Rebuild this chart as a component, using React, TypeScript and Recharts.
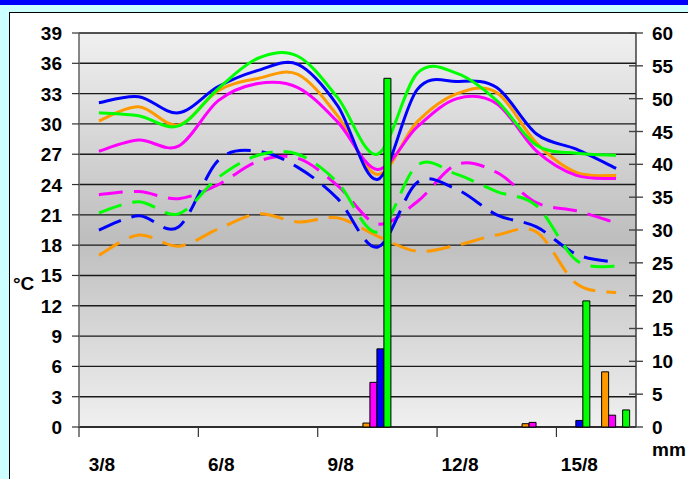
import React from "react";
import { ComposedChart, Line, Bar, XAxis, YAxis, CartesianGrid } from "recharts";

const days = ["3/8", "4/8", "5/8", "6/8", "7/8", "8/8", "9/8", "10/8", "11/8", "12/8", "13/8", "14/8", "15/8", "16/8"];

// Daily maximum temperatures (°C) – solid lines
const maxOrange = [30.3, 31.7, 29.9, 33.3, 34.5, 34.9, 30.8, 25.0, 30.2, 33.0, 33.1, 28.1, 25.2, 24.9];
const maxMagenta = [27.3, 28.4, 27.8, 32.3, 34.0, 33.6, 30.2, 25.5, 29.7, 32.5, 32.0, 27.3, 24.9, 24.6];
const maxBlue = [32.1, 32.7, 31.1, 33.7, 35.3, 35.9, 31.8, 24.5, 33.4, 34.2, 33.6, 29.0, 27.5, 25.6];
const maxGreen = [31.1, 30.8, 29.8, 33.5, 36.5, 36.7, 32.6, 27.0, 35.0, 35.0, 32.3, 27.9, 27.1, 26.9];

// Daily minimum temperatures (°C) – dashed lines
const minOrange = [17.0, 19.0, 17.9, 19.6, 21.1, 20.3, 20.7, 18.9, 17.4, 18.0, 19.0, 19.3, 14.2, 13.3];
const minMagenta = [23.0, 23.3, 22.6, 24.0, 26.3, 26.6, 23.9, 20.1, 22.3, 26.0, 25.2, 22.2, 21.4, 20.2];
const minBlue = [19.5, 20.9, 19.8, 26.4, 27.3, 25.7, 22.6, 17.8, 24.2, 23.5, 21.0, 19.8, 17.1, 16.3];
const minGreen = [21.2, 22.3, 21.1, 24.7, 26.9, 27.0, 24.2, 19.3, 25.9, 25.0, 23.3, 21.9, 16.5, 15.9];

// Daily rainfall (mm) – bars
const rainOrange = [null, null, null, null, null, null, null, 0.6, null, null, null, 0.5, null, 8.4];
const rainMagenta = [null, null, null, null, null, null, null, 6.8, null, null, null, 0.7, null, 1.8];
const rainBlue = [null, null, null, null, null, null, null, 11.9, null, null, null, null, 1.0, null];
const rainGreen = [null, null, null, null, null, null, null, 53.1, null, null, null, null, 19.2, 2.6];

const tempTicks = [0, 3, 6, 9, 12, 15, 18, 21, 24, 27, 30, 33, 36, 39];
const rainTicks = [0, 5, 10, 15, 20, 25, 30, 35, 40, 45, 50, 55, 60];

const data = days.map((day, i) => ({
  day,
  maxO: maxOrange[i],
  maxM: maxMagenta[i],
  maxB: maxBlue[i],
  maxG: maxGreen[i],
  minO: minOrange[i],
  minM: minMagenta[i],
  minB: minBlue[i],
  minG: minGreen[i],
  rO: rainOrange[i],
  rM: rainMagenta[i],
  rB: rainBlue[i],
  rG: rainGreen[i],
}));

const W = 688;
const H = 479;
const PL = 79;
const PR = 636;
const PT = 33;
const PB = 427;
const FONT = "'Liberation Sans', Arial, sans-serif";
const FS = 19;

const ORANGE = "#FF9900";
const MAGENTA = "#FF00FF";
const BLUE = "#0000FF";
const GREEN = "#00FF00";

// Excel-like smoothed curve (Catmull-Rom as cubic Bezier)
function excelCurve(context: any) {
  let pts: number[][] = [];
  return {
    areaStart() {},
    areaEnd() {},
    lineStart() {
      pts = [];
    },
    point(x: number, y: number) {
      pts.push([+x, +y]);
    },
    lineEnd() {
      if (!pts.length) return;
      context.moveTo(pts[0][0], pts[0][1]);
      for (let i = 0; i < pts.length - 1; i++) {
        const p0 = pts[i - 1] || pts[i];
        const p1 = pts[i];
        const p2 = pts[i + 1];
        const p3 = pts[i + 2] || p2;
        context.bezierCurveTo(
          p1[0] + (p2[0] - p0[0]) / 6,
          p1[1] + (p2[1] - p0[1]) / 6,
          p2[0] - (p3[0] - p1[0]) / 6,
          p2[1] - (p3[1] - p1[1]) / 6,
          p2[0],
          p2[1]
        );
      }
    },
  };
}

function XTick(props: any) {
  const { x, payload } = props;
  const band = (PR - PL) / days.length;
  const bx = x - band / 2;
  return (
    <g>
      <line x1={bx} x2={bx} y1={PB} y2={PB + 10} stroke="#333" strokeWidth={1.2} />
      <text x={x + 3} y={PB + 44} textAnchor="middle" fontFamily={FONT} fontWeight="bold" fontSize={FS} fill="#000">
        {payload.value}
      </text>
    </g>
  );
}

function LeftTick(props: any) {
  const { y, payload } = props;
  return (
    <g>
      <line x1={PL - 7} x2={PL} y1={y} y2={y} stroke="#333" strokeWidth={1.2} />
      <text x={62} y={y + 7} textAnchor="end" fontFamily={FONT} fontWeight="bold" fontSize={FS} fill="#000">
        {payload.value}
      </text>
    </g>
  );
}

function RightTick(props: any) {
  const { y, payload } = props;
  return (
    <g>
      <line x1={PR - 7} x2={PR + 7} y1={y} y2={y} stroke="#444" strokeWidth={1.4} />
      <text x={652} y={y + 7} textAnchor="start" fontFamily={FONT} fontWeight="bold" fontSize={FS} fill="#000">
        {payload.value}
      </text>
    </g>
  );
}

export default function App() {
  const solid = { strokeWidth: 3, dot: false, activeDot: false, isAnimationActive: false, yAxisId: "left", type: excelCurve as any };
  const dashed = { ...solid, strokeDasharray: "24 11" };
  const barCommon = { yAxisId: "right", stroke: "#000", strokeWidth: 1, isAnimationActive: false, zIndex: 600 } as any;
  return (
    <div style={{ position: "absolute", left: 0, top: 0, width: W, height: H, background: "#CCFFFF", overflow: "hidden" }}>
      <div style={{ position: "absolute", left: 0, top: 0, width: W, height: 5, background: "#0000FF" }} />
      <div
        style={{
          position: "absolute",
          left: 9,
          top: 12,
          width: 800,
          height: 600,
          background: "#FFFFFF",
          borderLeft: "1px solid #000",
          borderTop: "1px solid #000",
        }}
      />
      <div style={{ position: "absolute", left: 0, top: 0 }}>
        <ComposedChart
          width={W}
          height={H}
          data={data}
          margin={{ top: PT, right: 0, bottom: 0, left: 0 }}
          barCategoryGap="13.6%"
          barGap={0}
        >
          <defs>
            <linearGradient id="plotBg" x1="0" y1="0" x2="0" y2="1">
              <stop offset="0%" stopColor="#F0F0F0" />
              <stop offset="52%" stopColor="#BEBEBE" />
              <stop offset="100%" stopColor="#F0F0F0" />
            </linearGradient>
          </defs>
          <CartesianGrid
            yAxisId="left"
            vertical={false}
            stroke="#1a1a1a"
            strokeWidth={1.4}
            fill="url(#plotBg)"
            fillOpacity={1}
          />
          <XAxis
            dataKey="day"
            height={H - PB}
            interval={2}
            tickLine={false}
            axisLine={{ stroke: "#222", strokeWidth: 1.4 }}
            tick={(p: any) => <XTick {...p} />}
          />
          <YAxis
            yAxisId="left"
            orientation="left"
            width={PL}
            domain={[0, 39]}
            ticks={tempTicks}
            interval={0}
            tickLine={false}
            axisLine={{ stroke: "#6a6a6a", strokeWidth: 1.6 }}
            tick={(p: any) => <LeftTick {...p} />}
          />
          <YAxis
            yAxisId="right"
            orientation="right"
            width={W - PR}
            domain={[0, 60]}
            ticks={rainTicks}
            interval={0}
            tickLine={false}
            axisLine={{ stroke: "#333", strokeWidth: 1.4 }}
            tick={(p: any) => <RightTick {...p} />}
          />
          <Line {...dashed} dataKey="minO" stroke={ORANGE} />
          <Line {...dashed} dataKey="minM" stroke={MAGENTA} />
          <Line {...dashed} dataKey="minB" stroke={BLUE} />
          <Line {...dashed} dataKey="minG" stroke={GREEN} />
          <Line {...solid} dataKey="maxO" stroke={ORANGE} />
          <Line {...solid} dataKey="maxM" stroke={MAGENTA} />
          <Line {...solid} dataKey="maxB" stroke={BLUE} />
          <Line {...solid} dataKey="maxG" stroke={GREEN} />
          <Bar {...barCommon} dataKey="rO" fill={ORANGE} />
          <Bar {...barCommon} dataKey="rM" fill={MAGENTA} />
          <Bar {...barCommon} dataKey="rB" fill={BLUE} />
          <Bar {...barCommon} dataKey="rG" fill={GREEN} />
          <text x={13} y={290} fontFamily={FONT} fontWeight="bold" fontSize={FS} fill="#000">
            °C
          </text>
          <text x={652} y={456} fontFamily={FONT} fontWeight="bold" fontSize={FS} fill="#000">
            mm
          </text>
        </ComposedChart>
      </div>
    </div>
  );
}
